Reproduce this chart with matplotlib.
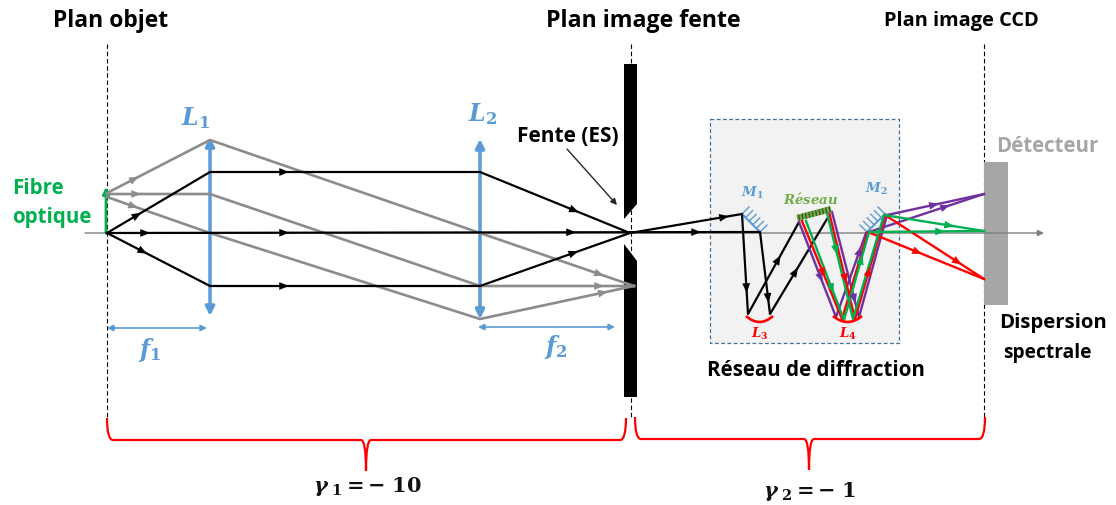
import matplotlib
matplotlib.use("Agg")
import matplotlib.pyplot as plt
from matplotlib.patches import Polygon, Rectangle, PathPatch
from matplotlib.path import Path

plt.rcParams["font.family"] = ["Open Sans", "DejaVu Sans"]
plt.rcParams["mathtext.fontset"] = "dejavuserif"

BLUE = "#5b9bd5"
GREY = "#8c8c8c"
GREEN = "#00b050"
RED = "#ff0000"
PURPLE = "#7030a0"
LIME = "#70ad47"

# everything in pixels
black_rays = [
    [(107, 234), (210, 173), (480, 173), (630, 234), (742, 215), (748, 315), (799, 223)],
    [(107, 234), (760, 233), (770, 315), (827, 220)],
    [(107, 234), (210, 287), (480, 287), (630, 234)],
]
grey_rays = [
    [(107, 194), (210, 141), (480, 234), (634, 287)],
    [(107, 195), (210, 195), (480, 287), (634, 287)],
    [(107, 198), (210, 234), (480, 320), (634, 287)],
]
purple_rays = [
    [(799, 223), (836, 318), (866, 234), (984, 195)],
    [(832, 213), (859, 318), (887, 216), (984, 195)],
]
green_rays = [
    [(806, 222), (844, 321), (869, 233), (984, 232)],
    [(827, 214), (853, 320), (884, 216), (984, 232)],
]
red_rays = [
    [(802, 222), (842, 320), (868, 233), (984, 280)],
    [(829, 213), (855, 320), (885, 216), (984, 280)],
]
black_heads = [(285, 173), (575, 212), (725, 218), (285, 234), (572, 234), (697, 234),
               (285, 287), (575, 255), (138, 216), (146, 234), (143, 254),
               (746, 290), (767, 300), (779, 260), (796, 272)]
grey_heads = [(135, 179), (137, 196), (134, 208), (600, 276), (600, 287), (604, 294)]
purple_heads = [(820, 280), (857, 300), (862, 252), (935, 206), (946, 207)]
green_heads = [(833, 290), (835, 252), (862, 260), (950, 227), (941, 235)]
red_heads = [(822, 275), (847, 280), (870, 272), (918, 254), (958, 264)]

lens_x = [210, 480]
lens_top = [138, 140]
lens_bottom = [317, 320]
slit_top = [(624, 65), (637, 65), (637, 205), (624, 220)]
slit_bottom = [(624, 245), (637, 262), (637, 398), (624, 398)]
grating = [(797, 219), (831, 210)]
mirror_1 = [(742, 215), (760, 233)]
mirror_2 = [(867, 233), (885, 215)]
dashed_x = [107, 631, 984]

fig = plt.figure(figsize=(11.16, 5.06), dpi=100)
ax = fig.add_axes([0, 0, 1, 1])
ax.set_xlim(0, 1116)
ax.set_ylim(506, 0)
ax.axis("off")


def head(x, y, prev, color):
    ax.annotate("", xy=(x, y), xytext=prev, zorder=6,
                arrowprops=dict(arrowstyle="-|>,head_length=0.7,head_width=0.28", color=color, lw=0,
                                shrinkA=0, shrinkB=0, mutation_scale=10))


def heads(rays, points, color):
    # put each head on the ray segment that passes closest to it
    for px, py in points:
        best = None
        for ray in rays:
            for a, b in zip(ray[:-1], ray[1:]):
                dx, dy = b[0] - a[0], b[1] - a[1]
                t = ((px - a[0]) * dx + (py - a[1]) * dy) / (dx * dx + dy * dy)
                t = min(1, max(0, t))
                cx, cy = a[0] + t * dx, a[1] + t * dy
                d = (cx - px) ** 2 + (cy - py) ** 2
                if best is None or d < best[0]:
                    best = (d, cx, cy, dx, dy)
        _, cx, cy, dx, dy = best
        n = (dx * dx + dy * dy) ** 0.5
        head(cx + 4 * dx / n, cy + 4 * dy / n, (cx - 4 * dx / n, cy - 4 * dy / n), color)


def draw_rays(rays, color, lw, z=4):
    for ray in rays:
        ax.plot([p[0] for p in ray], [p[1] for p in ray], color=color, lw=lw, zorder=z,
                solid_joinstyle="round")


def brace(x0, x1, xm, y_end, y_flat, y_tip):
    verts = [(x0, y_end), (x0, y_flat), (x0 + 6, y_flat), (xm - 5, y_flat), (xm, y_flat), (xm, y_tip),
             (xm, y_flat), (xm + 5, y_flat), (x1 - 6, y_flat), (x1, y_flat), (x1, y_end)]
    codes = [Path.MOVETO, Path.CURVE3, Path.CURVE3, Path.LINETO, Path.CURVE3, Path.CURVE3,
             Path.CURVE3, Path.CURVE3, Path.LINETO, Path.CURVE3, Path.CURVE3]
    ax.add_patch(PathPatch(Path(verts, codes), fc="none", ec=RED, lw=1.6, zorder=3))


# spectrometer box
ax.add_patch(Rectangle((710, 120), 189, 224, fc="#f2f2f2", ec="#41719c", lw=0.9, ls=(0, (3, 2)), zorder=1))

# dashed planes
for x in dashed_x:
    ax.plot([x, x], [45, 420], color="black", lw=0.8, ls=(0, (4, 2.5)), zorder=1.5)

# detector and slit
ax.add_patch(Rectangle((984, 163), 24, 143, fc="#a6a6a6", ec="none", zorder=2))
ax.add_patch(Polygon(slit_top, fc="black", ec="none", zorder=2))
ax.add_patch(Polygon(slit_bottom, fc="black", ec="none", zorder=2))

# optical axis
ax.annotate("", xy=(1044, 234), xytext=(85, 234), zorder=2,
            arrowprops=dict(arrowstyle="-|>", color="#7f7f7f", lw=1, shrinkA=0, shrinkB=0, mutation_scale=9))

# lenses
for x, top, bottom in zip(lens_x, lens_top, lens_bottom):
    ax.annotate("", xy=(x, top), xytext=(x, bottom), zorder=3,
                arrowprops=dict(arrowstyle="<|-|>", color=BLUE, lw=2.5, shrinkA=0, shrinkB=0, mutation_scale=13))

# source arrow
ax.annotate("", xy=(106, 188), xytext=(106, 234), zorder=3,
            arrowprops=dict(arrowstyle="-|>", color=GREEN, lw=2, shrinkA=0, shrinkB=0, mutation_scale=10))

# focal lengths
ax.annotate("", xy=(207, 329), xytext=(107, 329),
            arrowprops=dict(arrowstyle="<|-|>", color=BLUE, lw=1.2, shrinkA=0, shrinkB=0, mutation_scale=9))
ax.annotate("", xy=(615, 328), xytext=(478, 328),
            arrowprops=dict(arrowstyle="<|-|>", color=BLUE, lw=1.2, shrinkA=0, shrinkB=0, mutation_scale=9))

# rays
draw_rays(grey_rays, GREY, 1.9)
draw_rays(black_rays, "black", 1.6)
draw_rays(purple_rays, PURPLE, 1.7, 4.1)
draw_rays(red_rays, RED, 1.7, 4.2)
draw_rays(green_rays, GREEN, 1.7, 4.3)
heads(black_rays, black_heads, "black")
heads(grey_rays, grey_heads, GREY)
heads(purple_rays, purple_heads, PURPLE)
heads(green_rays, green_heads, GREEN)
heads(red_rays, red_heads, RED)

# fente label arrow
ax.annotate("", xy=(617, 206), xytext=(567, 150),
            arrowprops=dict(arrowstyle="-|>", color="#262626", lw=1, shrinkA=0, shrinkB=0, mutation_scale=9))

# mirrors
for (x0, y0), (x1, y1), tx in [(mirror_1[0], mirror_1[1], 7), (mirror_2[0], mirror_2[1], -7)]:
    ax.plot([x0, x1], [y0, y1], color=BLUE, lw=1.5, zorder=3)
    for k in range(6):
        px = x0 + (x1 - x0) * k / 5
        py = y0 + (y1 - y0) * k / 5
        ax.plot([px, px + tx], [py, py - 7], color=BLUE, lw=1, zorder=3)

# grating
ax.plot([grating[0][0], grating[1][0]], [grating[0][1], grating[1][1]], color=LIME, lw=4.5,
        solid_capstyle="butt", zorder=5)
for k in range(10):
    px = grating[0][0] + (grating[1][0] - grating[0][0]) * (k + 0.5) / 10
    py = grating[0][1] + (grating[1][1] - grating[0][1]) * (k + 0.5) / 10
    ax.plot([px, px + 0.8], [py - 2.2, py + 2.2], color="#385723", lw=1, zorder=5.1)

# small mirrors L3 and L4
for x0, x1 in [(746, 773), (833, 862)]:
    xm = (x0 + x1) / 2
    ax.add_patch(PathPatch(Path([(x0, 317), (xm, 329), (x1, 317)], [Path.MOVETO, Path.CURVE3, Path.CURVE3]),
                           fc="none", ec=RED, lw=1.9, zorder=5))

# braces
brace(107, 626, 366, 419, 441, 472)
brace(635, 985, 809, 418, 440, 471)

# text
bold = dict(ha="center", va="center", fontweight="bold", color="black", zorder=8)
ax.text(111, 21, "Plan objet", fontsize=16.5, **bold)
ax.text(643, 21, "Plan image fente", fontsize=16.7, **bold)
ax.text(961, 21, "Plan image CCD", fontsize=14.4, **bold)
ax.text(568, 136, "Fente (ES)", fontsize=15, **bold)
ax.text(816, 370, "Réseau de diffraction", fontsize=14.8, **bold)
ax.text(1053, 323, "Dispersion", fontsize=14.7, **bold)
ax.text(1047, 353, "spectrale", fontsize=13.8, **bold)
ax.text(1047, 146, "Détecteur", fontsize=14.8, ha="center", va="center", fontweight="bold", color="#a6a6a6")
ax.text(38, 188, "Fibre", fontsize=14.8, ha="center", va="center", fontweight="bold", color=GREEN)
ax.text(52, 218, "optique", fontsize=14.8, ha="center", va="center", fontweight="bold", color=GREEN)

ax.text(196, 118, r"$\mathbfit{L}_{\mathbf{1}}$", fontsize=17, color=BLUE, ha="center", va="center")
ax.text(483, 114, r"$\mathbfit{L}_{\mathbf{2}}$", fontsize=17, color=BLUE, ha="center", va="center")
ax.text(150, 350, r"$\mathbfit{f}_{\mathbf{1}}$", fontsize=17, color=BLUE, ha="center", va="center")
ax.text(556, 347, r"$\mathbfit{f}_{\mathbf{2}}$", fontsize=17, color=BLUE, ha="center", va="center")
ax.text(752, 193, r"$\mathbfit{M}_{\mathbf{1}}$", fontsize=9.5, color=BLUE, ha="center", va="center")
ax.text(876, 189, r"$\mathbfit{M}_{\mathbf{2}}$", fontsize=9.5, color=BLUE, ha="center", va="center")
ax.text(811, 200, r"$\mathbfit{R\acute{e}seau}$", fontsize=9.5, color=LIME, ha="center", va="center")
ax.text(760, 334, r"$\mathbfit{L}_{\mathbf{3}}$", fontsize=9.5, color=RED, ha="center", va="center")
ax.text(848, 334, r"$\mathbfit{L}_{\mathbf{4}}$", fontsize=9.5, color=RED, ha="center", va="center")
ax.text(367, 487, r"$\mathbfit{\gamma}_{\ \mathbf{1}}\mathbf{=-\ 10}$", fontsize=15, color="#111111", ha="center", va="center")
ax.text(810, 492, r"$\mathbfit{\gamma}_{\ \mathbf{2}}\mathbf{=-\ 1}$", fontsize=15, color="#111111", ha="center", va="center")

fig.savefig("out.png", dpi=100)
